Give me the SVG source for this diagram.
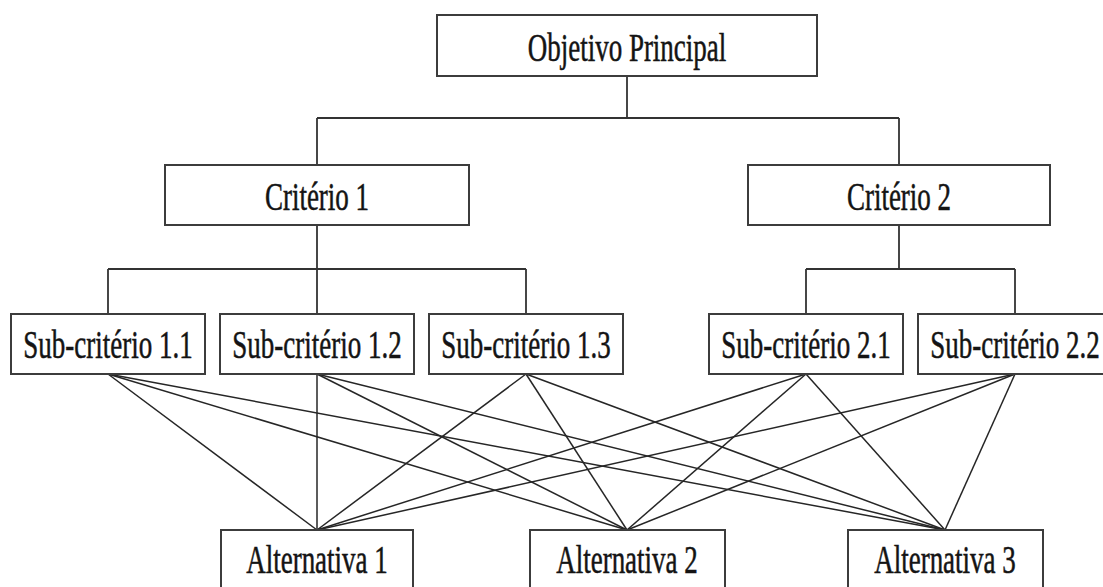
<svg xmlns="http://www.w3.org/2000/svg" width="1103" height="587" viewBox="0 0 1103 587">
  <style>
    .box { fill: #ffffff; stroke: #3c3c3c; stroke-width: 2; }
    .lbl { font-family: "Liberation Serif", "Times New Roman", serif; font-size: 27px; fill: #141414; stroke: #141414; stroke-width: 0.35; text-anchor: middle; }
    .tree path { stroke: #333333; stroke-width: 1.8; fill: none; }
    .mesh line { stroke: #262626; stroke-width: 1.5; }
  </style>
  <rect width="1103" height="587" fill="#ffffff"/>

  <!-- connectors -->
  <g id="connectors">
    <g class="tree">
      <path d="M627 76 V118 M317 118 H899 M317 118 V165 M899 118 V165"/>
      <path d="M317 225 V269 M108 269 H526 M108 269 V314 M317 269 V314 M526 269 V314"/>
      <path d="M899 225 V269 M806 269 H1015 M806 269 V314 M1015 269 V314"/>
    </g>
    <g class="mesh">
      <!-- every sub-criterion to every alternative -->
      <line x1="108" y1="374" x2="317" y2="530"/>
      <line x1="108" y1="374" x2="627" y2="530"/>
      <line x1="108" y1="374" x2="945" y2="530"/>
      <line x1="317" y1="374" x2="317" y2="530"/>
      <line x1="317" y1="374" x2="627" y2="530"/>
      <line x1="317" y1="374" x2="945" y2="530"/>
      <line x1="526" y1="374" x2="317" y2="530"/>
      <line x1="526" y1="374" x2="627" y2="530"/>
      <line x1="526" y1="374" x2="945" y2="530"/>
      <line x1="806" y1="374" x2="317" y2="530"/>
      <line x1="806" y1="374" x2="627" y2="530"/>
      <line x1="806" y1="374" x2="945" y2="530"/>
      <line x1="1015" y1="374" x2="317" y2="530"/>
      <line x1="1015" y1="374" x2="627" y2="530"/>
      <line x1="1015" y1="374" x2="945" y2="530"/>
    </g>
  </g>

  <!-- goal -->
  <g id="objetivo">
    <rect class="box" x="437" y="15" width="380" height="61"/>
    <text class="lbl" transform="translate(627 61) scale(1 1.52)">Objetivo Principal</text>
  </g>

  <!-- criteria -->
  <g id="criterio-1">
    <rect class="box" x="165" y="165" width="304" height="60"/>
    <text class="lbl" transform="translate(317 210) scale(1 1.52)">Critério 1</text>
  </g>
  <g id="criterio-2">
    <rect class="box" x="748" y="165" width="302" height="60"/>
    <text class="lbl" transform="translate(899 210) scale(1 1.52)">Critério 2</text>
  </g>

  <!-- sub-criteria -->
  <g id="sub-1-1">
    <rect class="box" x="11" y="314" width="194" height="60"/>
    <text class="lbl" transform="translate(108 358) scale(1 1.52)">Sub-critério 1.1</text>
  </g>
  <g id="sub-1-2">
    <rect class="box" x="220" y="314" width="194" height="60"/>
    <text class="lbl" transform="translate(317 358) scale(1 1.52)">Sub-critério 1.2</text>
  </g>
  <g id="sub-1-3">
    <rect class="box" x="429" y="314" width="194" height="60"/>
    <text class="lbl" transform="translate(526 358) scale(1 1.52)">Sub-critério 1.3</text>
  </g>
  <g id="sub-2-1">
    <rect class="box" x="709" y="314" width="194" height="60"/>
    <text class="lbl" transform="translate(806 358) scale(1 1.52)">Sub-critério 2.1</text>
  </g>
  <g id="sub-2-2">
    <rect class="box" x="918" y="314" width="194" height="60"/>
    <text class="lbl" transform="translate(1015 358) scale(1 1.52)">Sub-critério 2.2</text>
  </g>

  <!-- alternatives -->
  <g id="alternativa-1">
    <rect class="box" x="221" y="530" width="192" height="70"/>
    <text class="lbl" transform="translate(317 573) scale(1 1.52)">Alternativa 1</text>
  </g>
  <g id="alternativa-2">
    <rect class="box" x="530" y="530" width="195" height="70"/>
    <text class="lbl" transform="translate(627 573) scale(1 1.52)">Alternativa 2</text>
  </g>
  <g id="alternativa-3">
    <rect class="box" x="848" y="530" width="195" height="70"/>
    <text class="lbl" transform="translate(945 573) scale(1 1.52)">Alternativa 3</text>
  </g>
</svg>
